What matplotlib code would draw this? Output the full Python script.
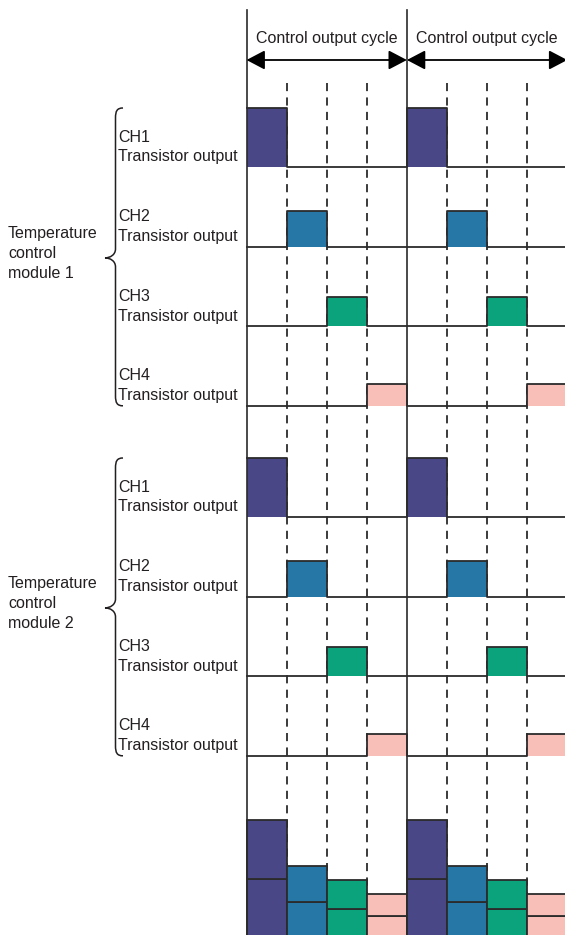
import matplotlib
matplotlib.use("Agg")
import matplotlib.pyplot as plt
from matplotlib.path import Path
from matplotlib.patches import PathPatch

plt.rcParams['font.family'] = ['Liberation Sans', 'DejaVu Sans']

# ---------------- data ----------------
cycle_label = "Control output cycle"
n_cycles = 2
channels = ["CH1", "CH2", "CH3", "CH4"]
channel_sub = "Transistor output"
modules = ["Temperature\ncontrol\nmodule 1", "Temperature\ncontrol\nmodule 2"]
pulse_heights = [59, 36, 29, 22]          # output level of each channel
on_segment = [0, 1, 2, 3]                  # segment of the cycle in which each channel is ON
colors = ["#4A4787", "#2677A6", "#0AA37B", "#F8BFB9"]

# ---------------- layout ----------------
W, H = 565, 935
x0_px, seg_px = 246.5, 40.1               # pixel origin & segment width
segs_per_cycle = 4
n_segs = n_cycles * segs_per_cycle
row_base0 = 167                            # first row baseline (px)
row_step = 79.6
module_step = 350
stack_base = 938
line_col = "#2b2b2b"
text_col = "#231f20"
fs = 11.5

fig = plt.figure(figsize=(W / 100, H / 100), dpi=100)
ax = fig.add_axes([0, 0, 1, 1])
ax.set_xlim(-x0_px / seg_px, (W - x0_px) / seg_px)
ax.set_ylim(H, 0)
ax.axis("off")

def px(xp):
    return (xp - x0_px) / seg_px

# vertical grid lines
for k in range(n_segs + 1):
    if k % segs_per_cycle == 0:
        ax.plot([k, k], [10, H], color=line_col, lw=1.2, zorder=5)
    else:
        ax.plot([k, k], [83, H], color=line_col, lw=1.3, ls=(0, (4.5, 3.5)), zorder=1)

# cycle arrows + labels
for c in range(n_cycles):
    a, b = c * segs_per_cycle, (c + 1) * segs_per_cycle
    ax.annotate("", xy=(b, 60), xytext=(a, 60), annotation_clip=False,
                arrowprops=dict(arrowstyle="<|-|>,head_length=0.8,head_width=0.42",
                                color="black", lw=1.3, mutation_scale=14,
                                shrinkA=0, shrinkB=0), zorder=6)
    ax.text((a + b) / 2, 38, cycle_label, ha="center", va="center",
            fontsize=fs, color=text_col)

def brace(ax, y_top, y_bot, y_tip, xs, xt, xe):
    # xs: spine x, xt: tip x, xe: end-hook x (pixels)
    pts = [(xe, y_top),
           (xs + 1.5, y_top), (xs, y_top + 3), (xs, y_top + 10),
           (xs, y_tip - 9),
           (xs, y_tip - 3), (xt + 5, y_tip), (xt, y_tip),
           (xt + 5, y_tip), (xs, y_tip + 3), (xs, y_tip + 9),
           (xs, y_bot - 10),
           (xs, y_bot - 3), (xs + 1.5, y_bot), (xe, y_bot)]
    codes = [Path.MOVETO,
             Path.CURVE4, Path.CURVE4, Path.CURVE4,
             Path.LINETO,
             Path.CURVE4, Path.CURVE4, Path.CURVE4,
             Path.CURVE4, Path.CURVE4, Path.CURVE4,
             Path.LINETO,
             Path.CURVE4, Path.CURVE4, Path.CURVE4]
    verts = [(px(x), y) for x, y in pts]
    ax.add_patch(PathPatch(Path(verts, codes), fill=False, lw=1.1, ec=text_col))

# waveforms
for m, mod in enumerate(modules):
    for c, ch in enumerate(channels):
        base = row_base0 + m * module_step + c * row_step
        top = base - pulse_heights[c]
        on = [k for k in range(n_segs) if k % segs_per_cycle == on_segment[c]]
        ax.bar([k + 0.5 for k in on], [-pulse_heights[c]] * len(on), bottom=base,
               width=1, color=colors[c], lw=0, zorder=2)
        levels = [top if k in on else base for k in range(n_segs)]
        ax.plot(list(range(n_segs + 1)), levels + [levels[-1]],
                drawstyle="steps-post", color=line_col, lw=1.3, zorder=4)
        ax.text(px(118), base - 30, ch, ha="left", va="center", fontsize=fs, color=text_col)
        ax.text(px(118), base - 10, channel_sub, ha="left", va="center", fontsize=fs, color=text_col)
    first = row_base0 + m * module_step
    last = first + (len(channels) - 1) * row_step
    y_top = first - pulse_heights[0]
    tip = (y_top + last) / 2 + 1
    brace(ax, y_top, last, tip, 115.5, 105, 123)
    for i, line in enumerate(mod.split("\n")):
        ax.text(px(8), tip - 24 + i * 20, line, ha="left", va="center",
                fontsize=fs, color=text_col)

# stacked total at bottom
for k in range(n_segs):
    c = on_segment.index(k % segs_per_cycle)
    bottom = stack_base
    for m in range(len(modules)):
        ax.bar(k + 0.5, -pulse_heights[c], bottom=bottom, width=1, color=colors[c],
               edgecolor=line_col, lw=1.3, zorder=3)
        bottom -= pulse_heights[c]

fig.savefig("out.png", dpi=100)
